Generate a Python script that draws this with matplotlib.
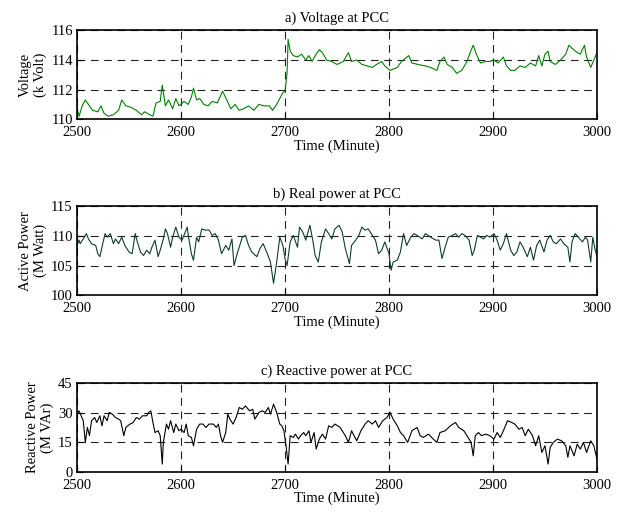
import matplotlib
matplotlib.use("Agg")
from matplotlib import pyplot as plt

plt.rcParams['font.family'] = ['Liberation Serif', 'DejaVu Serif']
plt.rcParams['font.size'] = 10

# a) voltage at PCC (minute, kV)
v_t = [2500, 2502, 2505, 2508, 2512, 2515, 2520, 2523, 2526, 2530, 2535, 2540, 2543, 2547,
       2552, 2557, 2562, 2565, 2570, 2573, 2576, 2580, 2582, 2585, 2588, 2592, 2595, 2598,
       2603, 2607, 2610, 2612, 2615, 2618, 2622, 2626, 2630, 2635, 2640, 2644, 2648, 2652,
       2656, 2660, 2665, 2670, 2675, 2680, 2685, 2688, 2692, 2695, 2698, 2700, 2702, 2703,
       2705, 2708, 2712, 2716, 2720, 2723, 2726, 2730, 2733, 2736, 2740, 2745, 2750, 2756,
       2761, 2764, 2769, 2774, 2779, 2784, 2788, 2793, 2796, 2801, 2808, 2812, 2819, 2822,
       2828, 2835, 2840, 2846, 2849, 2853, 2856, 2861, 2865, 2870, 2875, 2878, 2881, 2884,
       2888, 2893, 2897, 2901, 2905, 2910, 2913, 2917, 2921, 2926, 2931, 2936, 2941, 2944,
       2947, 2950, 2953, 2955, 2960, 2965, 2970, 2973, 2976, 2981, 2984, 2988, 2990, 2994,
       2997, 3000]
v_val = [110.8, 110.2, 110.9, 111.3, 110.9, 110.6, 110.5, 110.9, 110.4, 110.2, 110.3, 110.6,
         111.3, 110.9, 110.8, 110.6, 110.3, 110.5, 110.3, 110.2, 111.1, 111.2, 112.3, 110.9,
         111.3, 110.7, 111.4, 110.9, 111.2, 111.0, 111.5, 112.1, 111.3, 111.4, 111.0, 110.9,
         111.2, 111.1, 111.9, 111.3, 110.7, 111.0, 110.6, 110.7, 110.9, 110.6, 111.0, 110.9,
         110.9, 110.6, 111.0, 111.4, 111.8, 111.9, 113.1, 115.4, 114.6, 114.3, 114.2, 114.4,
         114.0, 114.3, 113.9, 114.4, 114.7, 114.5, 114.0, 113.9, 113.7, 113.9, 114.5, 113.9,
         114.0, 113.7, 113.6, 113.5, 113.7, 113.9, 113.6, 113.3, 113.5, 113.9, 114.3, 113.8,
         113.7, 113.6, 113.5, 113.3, 113.9, 114.2, 113.7, 113.5, 113.1, 113.3, 113.9, 114.5,
         115.0, 114.4, 113.8, 113.9, 113.9, 114.0, 113.8, 114.2, 113.6, 113.3, 113.3, 113.6,
         113.5, 113.8, 113.6, 114.3, 113.6, 114.4, 114.6, 113.9, 113.7, 114.0, 114.4, 115.0,
         114.8, 114.5, 114.4, 115.0, 114.2, 113.5, 114.0, 114.5]

# b) real power at PCC (minute, MW)
p_t = [2500, 2502, 2503, 2506, 2509, 2511, 2514, 2518, 2520, 2522, 2524, 2527, 2529, 2532,
       2535, 2537, 2540, 2543, 2546, 2550, 2553, 2556, 2558, 2561, 2564, 2567, 2570, 2572,
       2575, 2578, 2580, 2583, 2585, 2587, 2590, 2592, 2595, 2598, 2601, 2606, 2607, 2610,
       2612, 2615, 2617, 2620, 2623, 2627, 2630, 2633, 2636, 2639, 2643, 2646, 2649, 2651,
       2654, 2656, 2659, 2662, 2665, 2668, 2673, 2676, 2679, 2683, 2686, 2689, 2692, 2695,
       2698, 2700, 2702, 2705, 2708, 2712, 2714, 2717, 2720, 2724, 2727, 2729, 2732, 2735,
       2739, 2742, 2745, 2748, 2752, 2755, 2758, 2762, 2764, 2768, 2771, 2774, 2777, 2780,
       2784, 2787, 2790, 2793, 2796, 2800, 2802, 2804, 2808, 2811, 2814, 2817, 2821, 2824,
       2827, 2832, 2835, 2840, 2845, 2848, 2851, 2854, 2857, 2861, 2864, 2867, 2870, 2873,
       2877, 2880, 2882, 2885, 2888, 2891, 2894, 2897, 2901, 2904, 2907, 2910, 2913, 2917,
       2920, 2923, 2926, 2929, 2933, 2936, 2939, 2942, 2945, 2949, 2952, 2955, 2958, 2961,
       2965, 2968, 2972, 2974, 2976, 2979, 2982, 2986, 2989, 2991, 2994, 2996, 2998, 3000]
p_val = [108.4, 109.3, 108.7, 109.5, 110.4, 109.5, 108.7, 108.4, 107.0, 106.5, 108.1, 110.4,
         109.8, 110.4, 108.7, 109.5, 108.7, 109.8, 108.4, 107.3, 107.0, 110.4, 109.0, 107.3,
         106.7, 107.6, 107.0, 108.1, 109.3, 106.5, 107.6, 109.5, 111.2, 110.4, 108.1, 109.8,
         111.5, 109.8, 109.3, 111.5, 110.1, 107.0, 105.9, 109.8, 109.0, 111.2, 111.0, 111.0,
         110.1, 110.4, 109.3, 107.0, 108.4, 107.6, 109.5, 105.0, 107.0, 108.1, 109.8, 110.1,
         108.4, 107.3, 106.5, 107.9, 108.7, 107.0, 105.6, 102.0, 105.6, 109.8, 108.4, 106.2,
         105.0, 109.0, 110.1, 108.1, 111.5, 110.7, 109.3, 111.8, 109.0, 106.7, 105.6, 109.0,
         111.2, 110.4, 109.5, 111.2, 111.8, 110.7, 107.9, 105.3, 108.4, 109.3, 110.1, 111.5,
         111.0, 111.2, 110.1, 109.3, 107.0, 107.6, 109.0, 107.0, 104.2, 105.6, 105.9, 107.3,
         110.4, 108.4, 109.8, 110.4, 110.1, 109.5, 110.4, 109.8, 109.3, 109.3, 106.2, 108.1,
         109.8, 110.1, 110.4, 109.8, 110.4, 110.1, 109.3, 106.7, 107.6, 110.1, 109.8, 109.5,
         110.1, 109.8, 110.4, 109.3, 107.6, 108.7, 110.4, 107.6, 106.7, 107.3, 109.0, 108.1,
         106.5, 108.1, 105.9, 108.4, 109.3, 107.3, 109.3, 110.1, 109.0, 108.7, 109.5, 108.7,
         108.1, 105.6, 109.0, 110.4, 109.8, 109.0, 109.8, 109.3, 105.6, 109.8, 107.9, 106.5]

# c) reactive power at PCC (minute, MVAr)
q_t = [2500, 2502, 2504, 2506, 2508, 2510, 2512, 2514, 2517, 2519, 2522, 2524, 2526, 2529,
       2531, 2534, 2537, 2540, 2542, 2545, 2547, 2551, 2554, 2557, 2560, 2563, 2567, 2569,
       2571, 2573, 2575, 2578, 2580, 2582, 2583, 2586, 2588, 2590, 2593, 2595, 2598, 2600,
       2603, 2605, 2607, 2610, 2612, 2615, 2618, 2621, 2624, 2627, 2631, 2634, 2636, 2638,
       2640, 2643, 2645, 2647, 2650, 2653, 2656, 2659, 2662, 2666, 2669, 2671, 2675, 2678,
       2681, 2684, 2686, 2689, 2692, 2695, 2697, 2699, 2701, 2703, 2705, 2708, 2710, 2713,
       2715, 2718, 2720, 2723, 2725, 2728, 2730, 2733, 2736, 2739, 2742, 2745, 2748, 2753,
       2758, 2761, 2764, 2769, 2773, 2777, 2780, 2784, 2787, 2790, 2794, 2798, 2801, 2804,
       2808, 2811, 2814, 2818, 2822, 2827, 2830, 2833, 2838, 2841, 2846, 2849, 2854, 2859,
       2864, 2867, 2872, 2876, 2879, 2881, 2883, 2886, 2889, 2893, 2897, 2901, 2904, 2907,
       2910, 2914, 2918, 2921, 2925, 2928, 2931, 2934, 2938, 2941, 2944, 2947, 2950, 2953,
       2955, 2958, 2962, 2966, 2970, 2972, 2974, 2978, 2981, 2984, 2987, 2990, 2994, 2997,
       3000]
q_val = [29.3, 31.0, 28.5, 26.0, 15.0, 22.6, 18.4, 26.0, 27.6, 25.1, 28.5, 23.4, 28.5, 26.0,
         30.2, 29.3, 27.6, 26.8, 26.0, 18.4, 22.6, 24.3, 25.1, 27.6, 26.8, 28.5, 28.5, 30.2,
         31.0, 25.1, 20.0, 20.9, 18.4, 4.0, 15.0, 24.3, 21.7, 26.0, 20.0, 24.3, 20.9, 21.7,
         20.0, 24.3, 18.4, 17.5, 13.3, 21.7, 24.3, 24.3, 22.6, 24.3, 24.3, 22.6, 24.3, 18.4,
         15.0, 20.0, 29.3, 26.8, 24.3, 27.6, 32.7, 31.8, 33.5, 31.0, 31.8, 26.8, 30.2, 31.0,
         30.2, 32.7, 29.3, 34.4, 30.2, 24.3, 23.4, 20.9, 13.3, 4.0, 18.4, 17.5, 19.2, 16.7,
         18.4, 20.0, 18.4, 20.9, 15.0, 20.0, 11.6, 16.7, 19.2, 16.7, 23.4, 22.6, 24.3, 22.6,
         18.4, 15.0, 20.9, 15.8, 20.9, 24.3, 26.0, 24.3, 26.0, 22.6, 26.0, 27.6, 30.2, 26.8,
         23.4, 20.0, 18.4, 15.0, 20.9, 22.6, 18.4, 17.5, 19.2, 17.5, 15.0, 20.0, 20.9, 23.4,
         25.1, 22.6, 20.9, 17.5, 15.0, 8.2, 18.4, 20.0, 18.4, 19.2, 18.4, 16.7, 20.0, 17.5,
         20.9, 26.0, 25.1, 24.3, 21.7, 22.6, 18.4, 21.7, 18.4, 13.3, 18.4, 9.9, 13.3, 4.0,
         12.4, 15.0, 16.7, 15.8, 13.3, 7.4, 13.3, 8.2, 14.1, 11.6, 15.0, 9.9, 15.8, 13.3,
         6.5]

panels = [
    (v_t, v_val, '#008000', 'a) Voltage at PCC', 'Voltage\n(k Volt)', [110, 112, 114, 116]),
    (p_t, p_val, '#0f3d2a', 'b) Real power at PCC', 'Active Power\n(M Watt)', [100, 105, 110, 115]),
    (q_t, q_val, 'black', 'c) Reactive power at PCC', 'Reactive Power\n(M VAr)', [0, 15, 30, 45]),
]
bottoms = [0.769, 0.428, 0.0853]

fig = plt.figure(figsize=(6.19, 5.16), dpi=100)
for (t, y, col, title, ylab, yt), b in zip(panels, bottoms):
    ax = fig.add_axes([0.1244, b, 0.840, 0.172])
    ax.plot(t, y, color=col, lw=0.8)
    ax.set_xlim(2500, 3000)
    ax.set_ylim(yt[0], yt[-1])
    ax.set_yticks(yt)
    ax.set_xticks([2500, 2600, 2700, 2800, 2900, 3000])
    ax.tick_params(direction='in', length=4, labelsize=10.5)
    ax.tick_params(axis='x', pad=5)
    ax.tick_params(axis='y', pad=3)
    ax.grid(True, linestyle=(0, (7, 5)), color='#222222', lw=0.8)
    ax.set_title(title, fontsize=10.5, pad=6)
    ax.set_xlabel('Time (Minute)', fontsize=10.5, labelpad=0)
    ax.set_ylabel(ylab, fontsize=10.5, linespacing=1.15, labelpad=3)
    for s in ax.spines.values():
        s.set_linewidth(1.2)

plt.savefig('out.png', dpi=100)
